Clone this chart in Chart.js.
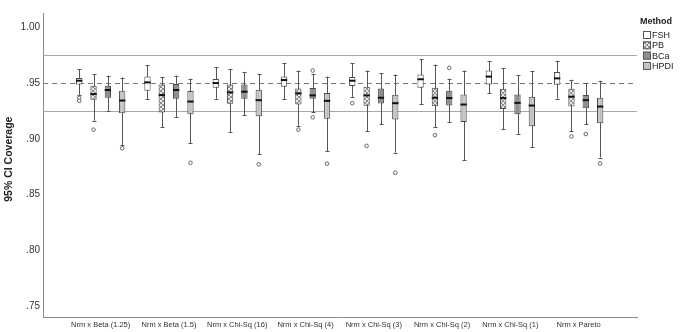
<!DOCTYPE html>
<html lang="en">
<head>
  <meta charset="UTF-8" />
  <title>95% CI Coverage</title>
  <script src="https://cdn.jsdelivr.net/npm/chart.js"></script>
  <style>
    html, body { margin: 0; padding: 0; background: #fff; }
    #wrap { width: 686px; height: 332px; }
  </style>
</head>
<body>
  <div id="wrap"><canvas id="grafico" width="686" height="332"></canvas></div>

  <script>
    const categorias = ['Nrm x Beta (1.25)', 'Nrm x Beta (1.5)', 'Nrm x Chi-Sq (16)', 'Nrm x Chi-Sq (4)',
      'Nrm x Chi-Sq (3)', 'Nrm x Chi-Sq (2)', 'Nrm x Chi-Sq (1)', 'Nrm x Pareto'];
    const metodos = ['FSH', 'PB', 'BCa', 'HPDI'];
    const yTicks = [0.75, 0.80, 0.85, 0.90, 0.95, 1.00];
    const lineasRef = [0.975, 0.925];
    const lineaNominal = 0.95;

    // [whisker bajo, Q1, mediana, Q3, whisker alto]
    const fsh = [
      [0.9395, 0.9489, 0.9522, 0.9547, 0.9628],
      [0.9359, 0.9432, 0.9507, 0.9559, 0.9661],
      [0.9360, 0.9459, 0.9501, 0.9537, 0.9646],
      [0.9359, 0.9468, 0.9528, 0.9559, 0.9679],
      [0.9377, 0.9474, 0.9522, 0.9556, 0.9679],
      [0.9311, 0.9459, 0.9535, 0.9577, 0.9716],
      [0.9410, 0.9489, 0.9559, 0.9613, 0.9700],
      [0.9362, 0.9486, 0.9543, 0.9601, 0.9700]
    ];
    const pb = [
      [0.9163, 0.9350, 0.9402, 0.9477, 0.9580],
      [0.9103, 0.9236, 0.9393, 0.9489, 0.9556],
      [0.9063, 0.9314, 0.9417, 0.9489, 0.9628],
      [0.9118, 0.9308, 0.9408, 0.9453, 0.9613],
      [0.9069, 0.9296, 0.9390, 0.9468, 0.9613],
      [0.9103, 0.9293, 0.9369, 0.9459, 0.9667],
      [0.9085, 0.9269, 0.9366, 0.9450, 0.9637],
      [0.9069, 0.9290, 0.9378, 0.9450, 0.9531]
    ];
    const bca = [
      [0.9251, 0.9369, 0.9438, 0.9477, 0.9568],
      [0.9193, 0.9359, 0.9438, 0.9492, 0.9568],
      [0.9211, 0.9359, 0.9423, 0.9489, 0.9601],
      [0.9239, 0.9359, 0.9390, 0.9456, 0.9583],
      [0.9130, 0.9317, 0.9369, 0.9453, 0.9589],
      [0.9148, 0.9299, 0.9366, 0.9432, 0.9540],
      [0.9040, 0.9220, 0.9323, 0.9399, 0.9571],
      [0.9130, 0.9275, 0.9347, 0.9393, 0.9501]
    ];
    const hpdi = [
      [0.8945, 0.9230, 0.9344, 0.9432, 0.9550],
      [0.8960, 0.9220, 0.9335, 0.9429, 0.9540],
      [0.8861, 0.9202, 0.9347, 0.9441, 0.9580],
      [0.8891, 0.9181, 0.9341, 0.9411, 0.9559],
      [0.8876, 0.9173, 0.9320, 0.9396, 0.9577],
      [0.8809, 0.9151, 0.9308, 0.9399, 0.9613],
      [0.8928, 0.9112, 0.9299, 0.9378, 0.9610],
      [0.8832, 0.9140, 0.9290, 0.9368, 0.9522]
    ];
    // atipicos por categoria
    const fshAtip = [[0.9368, 0.9341], [], [], [], [0.9320], [], [], []];
    const pbAtip = [[0.9082], [], [], [0.9082], [0.8937], [0.9033], [], [0.9021]];
    const bcaAtip = [[], [], [], [0.9613, 0.9193], [], [0.9637], [], [0.9043]];
    const hpdiAtip = [[0.8915], [0.8785], [0.8771], [0.8777], [0.8695], [], [], [0.8778]];

    function patronPB() {
      const c = document.createElement('canvas');
      c.width = 4; c.height = 4;
      const g = c.getContext('2d');
      g.fillStyle = '#8e8e8e';
      g.fillRect(0, 0, 4, 4);
      g.fillStyle = '#e8e8e8';
      g.fillRect(0, 0, 2, 2);
      g.fillRect(2, 2, 2, 2);
      return g.createPattern(c, 'repeat');
    }
    function patronHPDI() {
      const c = document.createElement('canvas');
      c.width = 3; c.height = 3;
      const g = c.getContext('2d');
      g.fillStyle = '#c9c9c9';
      g.fillRect(0, 0, 3, 3);
      g.fillStyle = '#bdbdbd';
      g.fillRect(0, 0, 1, 3);
      return g.createPattern(c, 'repeat');
    }

    const rellenos = ['#ffffff', patronPB(), '#8f8f8f', patronHPDI()];
    const stats = [fsh, pb, bca, hpdi];
    const atipicos = [fshAtip, pbAtip, bcaAtip, hpdiAtip];

    const datasets = metodos.map((m, k) => ({
      label: m,
      data: stats[k].map((b, i) => ({ x: i + 1, y: [b[1], b[3]] })),
      backgroundColor: rellenos[k],
      borderColor: '#4a4a4a',
      borderWidth: 1,
      borderSkipped: false,
      categoryPercentage: 0.84,
      barPercentage: 0.44
    }));

    const gris = '#555';

    const cajasPlugin = {
      id: 'cajas',
      beforeDatasetsDraw(chart) {
        const ctx = chart.ctx;
        const y = chart.scales.y;
        const area = chart.chartArea;
        ctx.save();
        // lineas de referencia
        ctx.strokeStyle = '#a9a9a9';
        ctx.lineWidth = 1;
        lineasRef.forEach(v => {
          const py = Math.round(y.getPixelForValue(v)) + 0.5;
          ctx.beginPath(); ctx.moveTo(area.left, py); ctx.lineTo(area.right, py); ctx.stroke();
        });
        ctx.strokeStyle = '#7a7a7a';
        ctx.setLineDash([5, 4]);
        const pn = Math.round(y.getPixelForValue(lineaNominal)) + 0.5;
        ctx.beginPath(); ctx.moveTo(area.left, pn); ctx.lineTo(area.right, pn); ctx.stroke();
        ctx.setLineDash([]);
        // bigotes
        ctx.strokeStyle = gris;
        chart.data.datasets.forEach((ds, k) => {
          chart.getDatasetMeta(k).data.forEach((el, i) => {
            const b = stats[k][i];
            const px = Math.round(el.x) + 0.5;
            const lo = y.getPixelForValue(b[0]);
            const hi = y.getPixelForValue(b[4]);
            ctx.beginPath();
            ctx.moveTo(px, hi); ctx.lineTo(px, lo);
            ctx.moveTo(px - 2, Math.round(hi) + 0.5); ctx.lineTo(px + 2, Math.round(hi) + 0.5);
            ctx.moveTo(px - 2, Math.round(lo) + 0.5); ctx.lineTo(px + 2, Math.round(lo) + 0.5);
            ctx.stroke();
          });
        });
        ctx.restore();
      },
      afterDatasetsDraw(chart) {
        const ctx = chart.ctx;
        const y = chart.scales.y;
        ctx.save();
        chart.data.datasets.forEach((ds, k) => {
          chart.getDatasetMeta(k).data.forEach((el, i) => {
            const b = stats[k][i];
            const pm = y.getPixelForValue(b[2]);
            ctx.strokeStyle = '#111';
            ctx.lineWidth = 2;
            ctx.beginPath();
            ctx.moveTo(el.x - el.width / 2, pm); ctx.lineTo(el.x + el.width / 2, pm);
            ctx.stroke();
            ctx.lineWidth = 1;
            ctx.strokeStyle = '#666';
            ctx.fillStyle = '#fff';
            atipicos[k][i].forEach(v => {
              ctx.beginPath();
              ctx.arc(el.x, y.getPixelForValue(v), 1.8, 0, Math.PI * 2);
              ctx.fill(); ctx.stroke();
            });
          });
        });
        ctx.restore();
      },
      afterDraw(chart) {
        const ctx = chart.ctx;
        ctx.save();
        ctx.fillStyle = '#222';
        ctx.font = 'bold 9px "Liberation Sans", Arial, sans-serif';
        ctx.textBaseline = 'middle';
        ctx.fillText('Method', 640, 22);
        ctx.font = '9px "Liberation Sans", Arial, sans-serif';
        metodos.forEach((m, k) => {
          const cy = 35 + k * 10.3;
          ctx.fillStyle = rellenos[k];
          ctx.fillRect(643, cy - 4, 8, 8);
          ctx.strokeStyle = '#555';
          ctx.lineWidth = 1;
          ctx.strokeRect(643.5, cy - 3.5, 7, 7);
          ctx.fillStyle = '#222';
          ctx.fillText(m, 652, cy + 0.5);
        });
        ctx.restore();
      }
    };

    new Chart(document.getElementById('grafico'), {
      type: 'bar',
      data: { datasets },
      options: {
        responsive: false,
        animation: false,
        layout: { padding: { top: 13, right: 49, left: 0, bottom: 0 } },
        plugins: { legend: { display: false }, tooltip: { enabled: false } },
        scales: {
          x: {
            type: 'linear',
            min: 0.155,
            max: 8.855,
            offset: false,
            afterBuildTicks: s => { s.ticks = categorias.map((c, i) => ({ value: i + 1 })); },
            afterFit: s => { s.height = 15; },
            grid: { display: false, drawTicks: false },
            border: { display: true, color: '#8a8a8a', width: 1 },
            ticks: {
              autoSkip: false,
              maxRotation: 0,
              padding: 3,
              color: '#333',
              font: { family: '"Liberation Sans", Arial, sans-serif', size: 7.5 },
              callback: (v, i) => categorias[i]
            }
          },
          y: {
            min: 0.740,
            max: 1.013,
            afterBuildTicks: s => { s.ticks = yTicks.map(v => ({ value: v })); },
            afterFit: s => { s.width = 43; },
            grid: { display: false, drawTicks: false },
            border: { display: true, color: '#8a8a8a', width: 1 },
            ticks: {
              padding: 3,
              color: '#333',
              font: { family: '"Liberation Sans", Arial, sans-serif', size: 10 },
              callback: v => v >= 1 ? v.toFixed(2) : v.toFixed(2).replace(/^0/, '')
            },
            title: {
              display: true,
              text: '    95% CI Coverage',
              color: '#222',
              padding: { top: 3, bottom: 0 },
              font: { family: '"Liberation Sans", Arial, sans-serif', size: 10.5, weight: 'bold' }
            }
          }
        }
      },
      plugins: [cajasPlugin]
    });
  </script>
</body>
</html>
